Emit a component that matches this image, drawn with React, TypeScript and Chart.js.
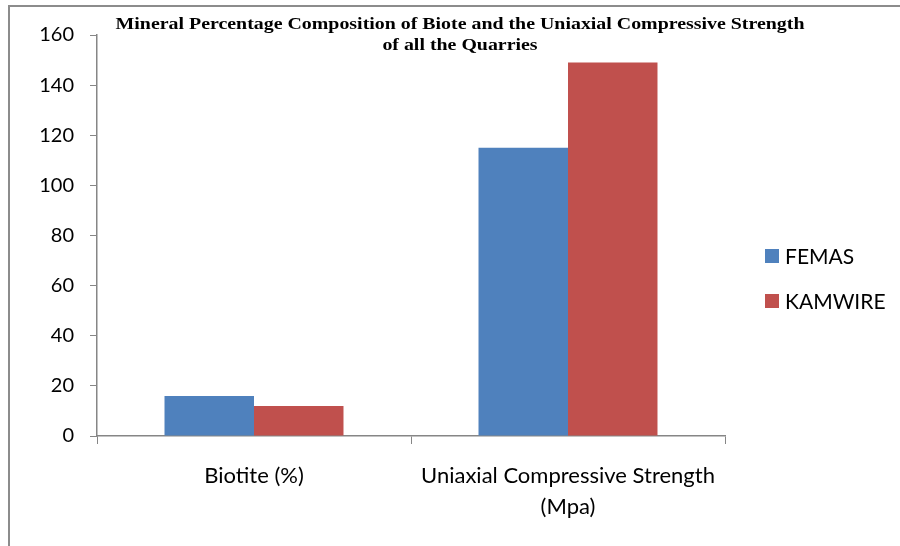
import React, { useEffect, useRef } from "react";
import { Chart, registerables } from "chart.js";

Chart.register(...registerables);

const categories: (string | string[])[] = ["Biotite (%)", ["Uniaxial Compressive Strength", "(Mpa)"]];
const femasValues = [16, 115];
const kamwireValues = [12, 149];
const seriesNames = ["FEMAS", "KAMWIRE"];
const seriesColors = ["#4F81BD", "#C0504D"];
const titleLines = [
  "Mineral Percentage Composition of Biote and the Uniaxial Compressive Strength",
  "of all the Quarries",
];
const yMin = 0;
const yMax = 160;
const yStep = 20;

const AXIS_GREY = "#868686";
const LABEL_FONT = "Lato, 'Open Sans', sans-serif";

const decorPlugin = {
  id: "decor",
  afterDraw(chart: any) {
    const ctx = chart.ctx as CanvasRenderingContext2D;
    ctx.save();
    // outer frame
    ctx.strokeStyle = "#8c8c8c";
    ctx.lineWidth = 2;
    ctx.beginPath();
    ctx.moveTo(9, 560);
    ctx.lineTo(9, 6);
    ctx.lineTo(910, 6);
    ctx.stroke();
    // title (horizontally stretched, as in the reference)
    ctx.save();
    ctx.translate(460, 0);
    ctx.scale(1.17, 1);
    ctx.fillStyle = "#000";
    ctx.font = "bold 17px 'Liberation Serif', 'Times New Roman', serif";
    ctx.textAlign = "center";
    ctx.textBaseline = "middle";
    ctx.fillText(titleLines[0], 0, 25);
    ctx.fillText(titleLines[1], 0, 46);
    ctx.restore();
    // legend
    const ds = chart.data.datasets;
    const ys = [256, 301];
    ds.forEach((d: any, i: number) => {
      ctx.fillStyle = d.backgroundColor;
      ctx.fillRect(765, ys[i] - 7, 14, 14);
      ctx.fillStyle = "#000";
      ctx.font = `21px ${LABEL_FONT}`;
      ctx.textAlign = "left";
      ctx.textBaseline = "middle";
      ctx.fillText(d.label, 785, ys[i] + 1);
    });
    ctx.restore();
  },
};

export default function App() {
  const ref = useRef<HTMLCanvasElement>(null);
  useEffect(() => {
    if (!ref.current) return;
    const chart = new Chart(ref.current, {
      type: "bar",
      data: {
        labels: categories,
        datasets: [
          {
            label: seriesNames[0],
            data: femasValues,
            backgroundColor: seriesColors[0],
            categoryPercentage: 0.57,
            barPercentage: 1.0,
          },
          {
            label: seriesNames[1],
            data: kamwireValues,
            backgroundColor: seriesColors[1],
            categoryPercentage: 0.57,
            barPercentage: 1.0,
          },
        ],
      },
      options: {
        animation: false,
        responsive: false,
        maintainAspectRatio: false,
        layout: { padding: { left: 0, top: 35, right: 175, bottom: 0 } },
        plugins: {
          legend: { display: false },
          title: { display: false },
          tooltip: { enabled: false },
        },
        scales: {
          x: {
            offset: true,
            grid: {
              offset: true,
              drawOnChartArea: false,
              drawTicks: true,
              tickLength: 8,
              color: AXIS_GREY,
            },
            border: { color: AXIS_GREY, width: 1.5 },
            ticks: {
              color: "#000",
              font: { family: LABEL_FONT, size: 22, lineHeight: 1.41 },
              padding: 16,
              maxRotation: 0,
              autoSkip: false,
            },
            afterFit(scale: any) {
              scale.height = 110;
            },
          } as any,
          y: {
            min: yMin,
            max: yMax,
            grid: {
              drawOnChartArea: false,
              drawTicks: true,
              tickLength: 7,
              color: AXIS_GREY,
            },
            border: { color: AXIS_GREY, width: 1.5 },
            ticks: {
              stepSize: yStep,
              color: "#000",
              font: { family: LABEL_FONT, size: 20 },
              padding: 16,
            },
            afterFit(scale: any) {
              scale.width = 97;
            },
          },
        },
      },
      plugins: [decorPlugin],
    });
    return () => chart.destroy();
  }, []);
  return (
    <div style={{ position: "fixed", left: 0, top: 0, width: 900, height: 546, overflow: "hidden", background: "#fff" }}>
      <canvas ref={ref} width={900} height={546} style={{ display: "block", width: 900, height: 546 }} />
    </div>
  );
}
